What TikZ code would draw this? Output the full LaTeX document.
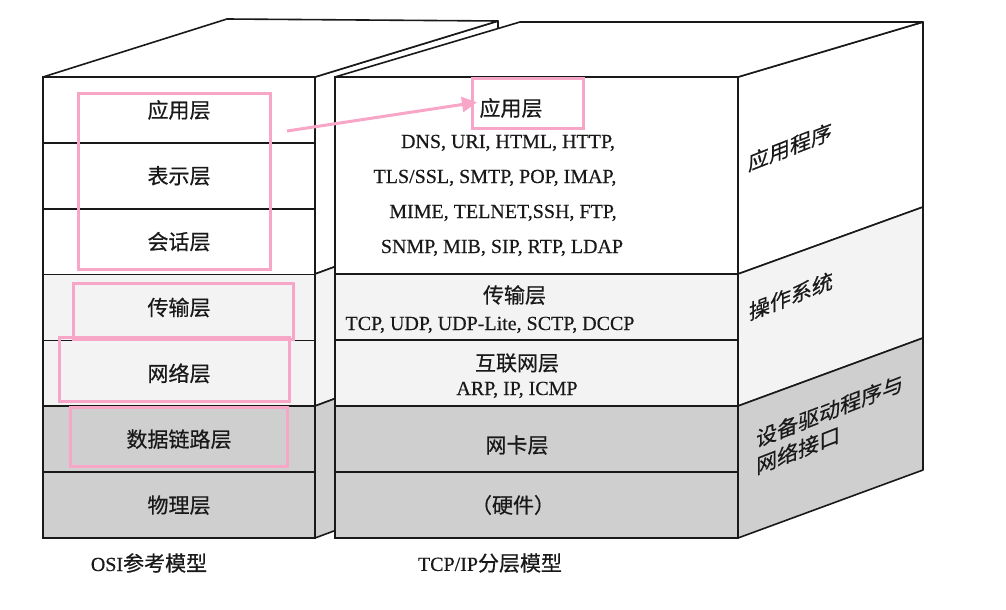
\documentclass[tikz,border=0pt]{standalone}
\usepackage{fontspec}
\setmainfont[FakeBold=0.4]{Liberation Serif}
\newfontfamily\cjk[FakeBold=0.5]{Noto Sans CJK SC}
\usetikzlibrary{arrows.meta}
\definecolor{pinkc}{RGB}{248,166,200}
\definecolor{lgray}{RGB}{243,243,243}
\definecolor{dgray}{RGB}{207,207,207}
\definecolor{ink}{RGB}{25,25,25}
\begin{document}
\begin{tikzpicture}[x=1pt,y=-1pt,
  edge/.style={draw=ink,line width=1.6pt,line join=round},
  layer/.style={draw=ink,line width=1.6pt,inner sep=0pt,outer sep=0pt,minimum width=272pt,minimum height=65.86pt,font=\cjk\fontsize{21}{25}\selectfont,text=ink},
  tlayer/.style={draw=ink,line width=1.6pt,inner sep=0pt,outer sep=0pt,minimum width=403pt,minimum height=66pt},
  zh/.style={font=\cjk\fontsize{21}{26}\selectfont,text=ink,inner sep=0pt},
  en/.style={font=\rmfamily\fontsize{20}{24}\selectfont,text=ink,inner sep=0pt,anchor=base},
  pinkbox/.style={draw=pinkc,line width=3pt,inner sep=0pt,outer sep=0pt},
  sidetext/.style={zh,yslant=0.39},
  pinkarrow/.style={draw=pinkc,line width=3pt,-{Triangle[length=15pt,width=15pt]}}
]
\useasboundingbox (0,0) rectangle (1006,610);
\fill[white] (0,0) rectangle (1006,610);
% OSI box: side and top
\filldraw[edge,fill=white] (315,77) -- (498,21) -- (498,207) -- (315,274) -- cycle;
\filldraw[edge,fill=lgray] (315,274) -- (498,207) -- (498,338) -- (315,406) -- cycle;
\filldraw[edge,fill=dgray] (315,406) -- (498,338) -- (498,470) -- (315,538) -- cycle;
\filldraw[edge,fill=white] (43,77) -- (227,19) -- (498,21) -- (315,77) -- cycle;
% OSI front layers
\node[layer,fill=white] (o7) at (179,109.93) {应用层};
\node[layer,fill=white] (o6) at (179,175.79) {表示层};
\node[layer,fill=white] (o5) at (179,241.64) {会话层};
\node[layer,fill=lgray] (o4) at (179,307.50) {传输层};
\node[layer,fill=lgray] (o3) at (179,373.36) {网络层};
\node[layer,fill=dgray] (o2) at (179,439.21) {数据链路层};
\node[layer,fill=dgray] (o1) at (179,505.07) {物理层};
% TCP/IP box: side and top
\filldraw[edge,fill=white] (738,77) -- (923,22) -- (923,207) -- (738,274) -- cycle;
\filldraw[edge,fill=lgray] (738,274) -- (923,207) -- (923,338) -- (738,406) -- cycle;
\filldraw[edge,fill=dgray] (738,406) -- (923,338) -- (923,470) -- (738,538) -- cycle;
\filldraw[edge,fill=white] (335,77) -- (520,22) -- (923,22) -- (738,77) -- cycle;
% TCP/IP front layers
\node[tlayer,fill=white,minimum height=197pt] (t4) at (536.5,175.5) {};
\node[tlayer,fill=lgray] (t3) at (536.5,307) {};
\node[tlayer,fill=lgray] (t2) at (536.5,373) {};
\node[tlayer,fill=dgray] (t1) at (536.5,439) {};
\node[tlayer,fill=dgray] (t0) at (536.5,505) {};
% TCP/IP texts
\node[zh] (t4a) at (511,108) {应用层};
\node[en] (t4b) at (508,148) {DNS, URI, HTML, HTTP,};
\node[en] (t4c) at (495,183) {TLS/SSL, SMTP, POP, IMAP,};
\node[en] (t4d) at (503,218) {MIME, TELNET,SSH, FTP,};
\node[en] (t4e) at (502,253) {SNMP, MIB, SIP, RTP, LDAP};
\node[zh] (t3a) at (514.5,295) {传输层};
\node[en] (t3b) at (490,330) {TCP, UDP, UDP-Lite, SCTP, DCCP};
\node[zh] (t2a) at (517,363) {互联网层};
\node[en] (t2b) at (517,395) {ARP, IP, ICMP};
\node[zh] (t1a) at (517,445) {网卡层};
\node[zh] (t0a) at (513,505) {（硬件）};
% side texts
\node[sidetext] (s3) at (790,147) {应用程序};
\node[sidetext] (s2) at (791,296) {操作系统};
\node[sidetext,font=\cjk\fontsize{21}{27}\selectfont,align=left,anchor=west] (s1) at (756,453) {设备驱动程序与\\网络接口};
% captions
\node[zh] (cap1) at (149,563) {{\rmfamily\fontsize{20}{24}\selectfont OSI}参考模型};
\node[zh] (cap2) at (490,563) {{\rmfamily\fontsize{20}{24}\selectfont TCP/IP}分层模型};
% pink highlight boxes
\node[pinkbox,minimum width=192pt,minimum height=176pt] (p1) at (174,181) {};
\node[pinkbox,minimum width=220pt,minimum height=56pt] (p2) at (183,311) {};
\node[pinkbox,minimum width=230pt,minimum height=64pt] (p3) at (174,369) {};
\node[pinkbox,minimum width=217pt,minimum height=59pt] (p4) at (178.5,436.5) {};
\node[pinkbox,minimum width=111pt,minimum height=50pt] (p5) at (527.5,103) {};
\coordinate (astart) at (287,131);
\draw[pinkarrow,shorten >=-5pt] (astart) -- (p5.west);
\end{tikzpicture}
\end{document}
